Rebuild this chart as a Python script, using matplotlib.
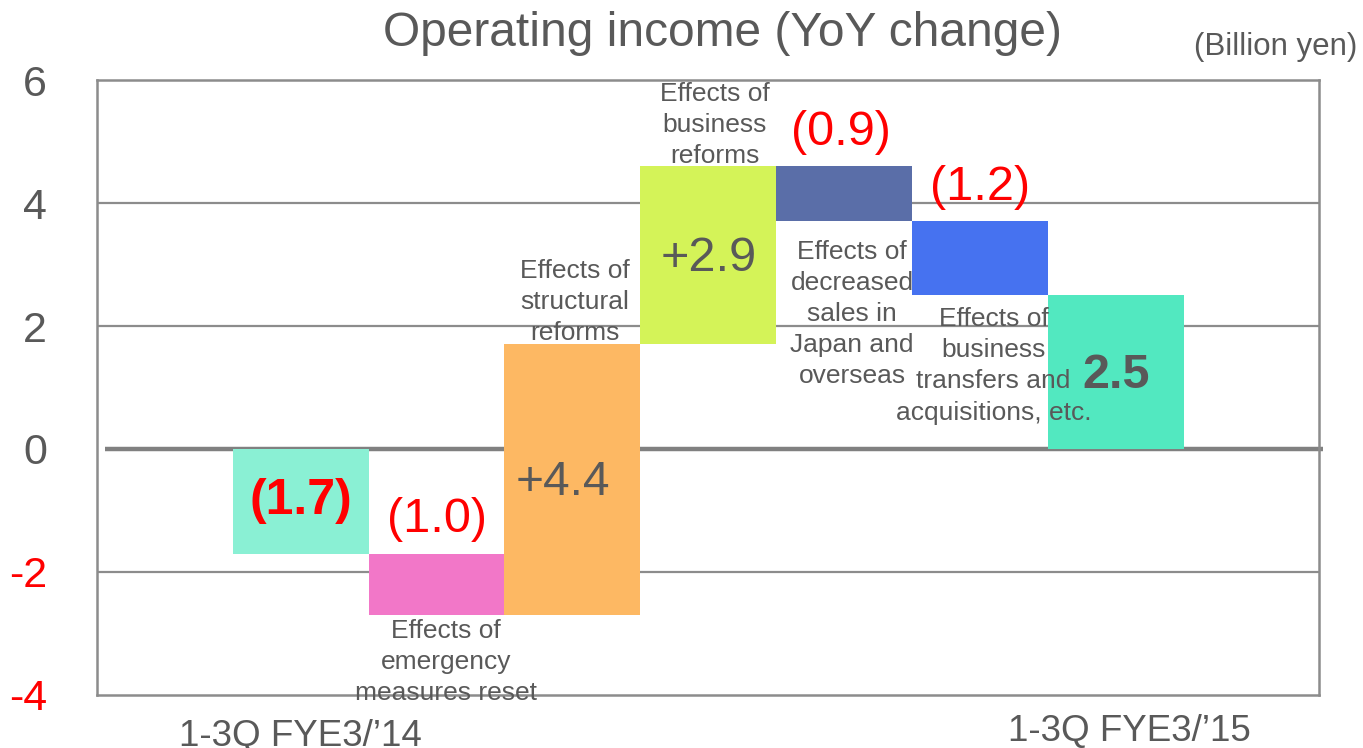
import matplotlib

matplotlib.use("Agg")
import matplotlib.pyplot as plt  # noqa: E402
import numpy as np  # noqa: E402

# ---- data (billion yen) ----
start_value = 0.0
steps = [-1.7, -1.0, 4.4, 2.9, -0.9, -1.2]
final_value = 2.5
value_labels = ["(1.7)", "(1.0)", "+4.4", "+2.9", "(0.9)", "(1.2)", "2.5"]
step_names = [
    "",
    "Effects of\nemergency\nmeasures reset",
    "Effects of\nstructural\nreforms",
    "Effects of\nbusiness\nreforms",
    "Effects of\ndecreased\nsales in\nJapan and\noverseas",
    "Effects of\nbusiness\ntransfers and\nacquisitions, etc.",
]
period_labels = ["1-3Q FYE3/\u201914", "1-3Q FYE3/\u201915"]
yticks = [-4, -2, 0, 2, 4, 6]

# ---- styling / layout ----
bar_colors = ["#8af0d4", "#f277c8", "#fdb863", "#d4f358", "#5a6ea8", "#4672f0", "#52e8c0"]
value_colors = ["red", "red", "#595959", "#595959", "red", "red", "#595959"]
value_weights = ["bold", "normal", "normal", "normal", "normal", "normal", "bold"]
value_dx = [0, 0, -0.07, 0, -0.02, 0, 0]
value_y = [-0.85, -1.15, -0.55, 3.1, 5.15, 4.26, 1.2]
name_dx = [0, 0.07, 0.02, 0.05, 0.06, 0.1]
name_y = [0, -3.46, 2.39, 5.27, 2.2, 1.35]
grey = "#595959"
line_grey = "#8c8c8c"

plt.rcParams["font.family"] = ["Liberation Sans", "DejaVu Sans"]

# waterfall geometry from the data
ends = np.cumsum([start_value] + steps)
bottoms = [min(a, b) for a, b in zip(ends[:-1], ends[1:])] + [0.0]
heights = [abs(s) for s in steps] + [final_value]
x = np.arange(1, len(heights) + 1)

fig = plt.figure(figsize=(13.63, 7.48), dpi=100)
ax = fig.add_axes([0.0712, 0.0709, 0.8968, 0.8221])

ax.bar(x, heights, bottom=bottoms, width=1.0, color=bar_colors, zorder=3)

# gridlines and zero line
for v in yticks[1:-1]:
    if v != 0:
        ax.axhline(v, color=line_grey, lw=1.6, zorder=1)
ax.hlines(0, -0.44, 8.53, color="#808080", lw=3.2, zorder=2, clip_on=False)

ax.set_xlim(-0.5, 8.5)
ax.set_ylim(-4, 6)
ax.set_yticks(yticks)
ax.set_yticklabels([str(v) for v in yticks], fontsize=31)
for lbl, v in zip(ax.get_yticklabels(), yticks):
    lbl.set_color("red" if v < 0 else grey)
ax.tick_params(axis="y", length=0, pad=36)
ax.set_xticks([])
for s in ax.spines.values():
    s.set_color(line_grey)
    s.set_linewidth(1.8)

# value labels
value_sizes = [36, 35, 34.5, 35, 35, 35, 35]
for i, (lab, c, w) in enumerate(zip(value_labels, value_colors, value_weights)):
    ax.text(x[i] + value_dx[i], value_y[i], lab, color=c, fontweight=w,
            fontsize=value_sizes[i], ha="center", va="center", zorder=5)

# step descriptions
for i, name in enumerate(step_names):
    if name:
        ax.text(x[i] + name_dx[i], name_y[i], name, color=grey, fontsize=19,
                ha="center", va="center", linespacing=1.37, zorder=4)

# period labels
ax.text(x[0], -0.068, period_labels[0], transform=ax.get_xaxis_transform(),
        fontsize=26.5, color=grey, ha="center", va="center")
ax.text(x[-1] + 0.1, -0.06, period_labels[1], transform=ax.get_xaxis_transform(),
        fontsize=26.5, color=grey, ha="center", va="center")

fig.text(0.530, 0.955, "Operating income (YoY change)", fontsize=34.5, color=grey,
         ha="center", va="center")
fig.text(0.996, 0.937, "(Billion yen)", fontsize=22.5, color=grey, ha="right", va="center")

fig.savefig("out.png", dpi=100)
